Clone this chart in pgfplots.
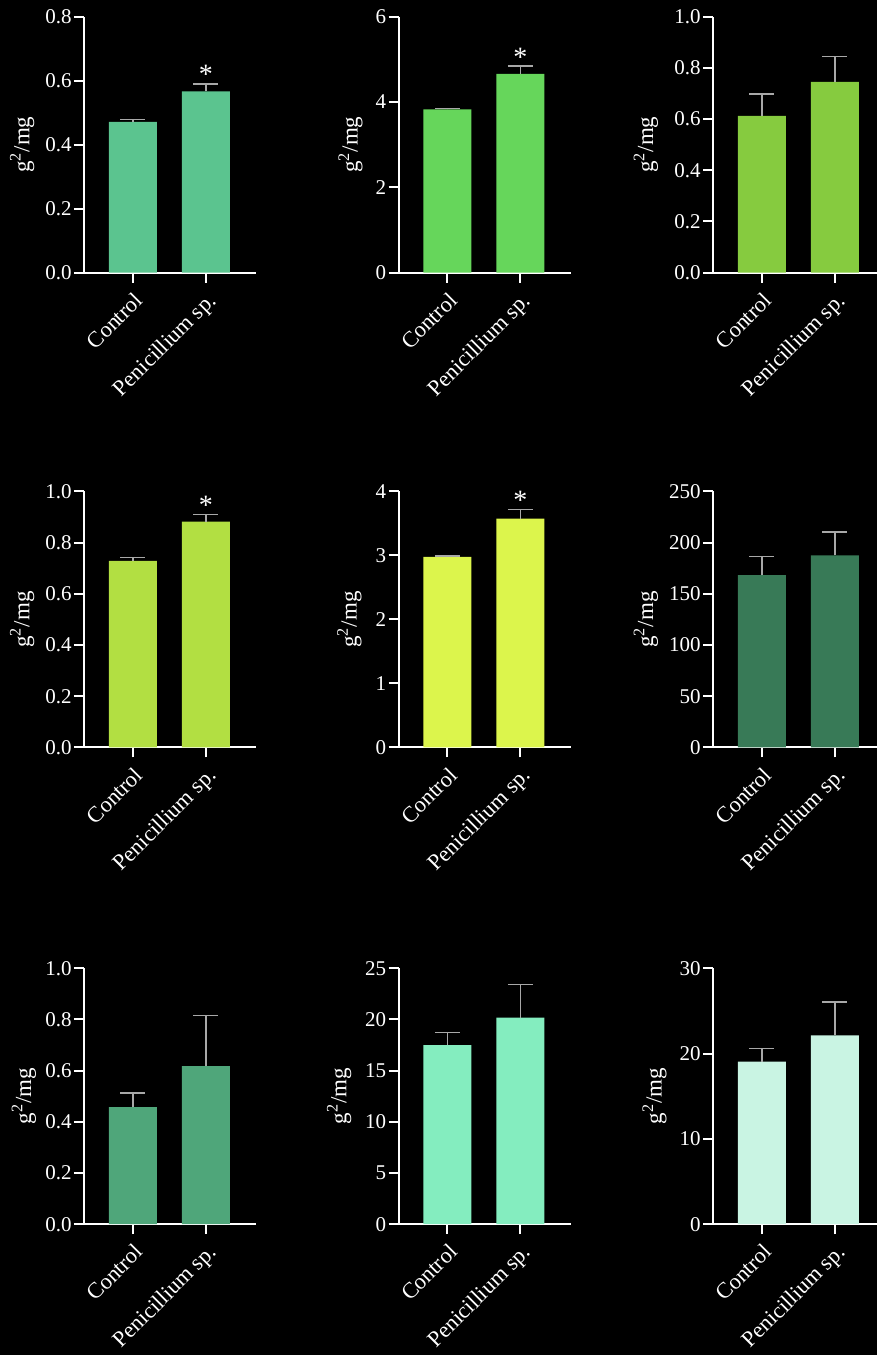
\documentclass[border=0pt]{standalone}
\usepackage{fontspec}
\setmainfont{Liberation Serif}
\usepackage{pgfplots}
\pgfplotsset{compat=1.18}

\definecolor{errgray}{HTML}{A8A8A8}
\definecolor{cA}{HTML}{5BC48F}
\definecolor{cB}{HTML}{66D65B}
\definecolor{cC}{HTML}{86CB3F}
\definecolor{cD}{HTML}{B2DF42}
\definecolor{cE}{HTML}{DCF54C}
\definecolor{cF}{HTML}{387A57}
\definecolor{cG}{HTML}{4FA67A}
\definecolor{cH}{HTML}{84EDBF}
\definecolor{cI}{HTML}{C9F4E3}

\tikzset{
  star/.style={font=\fontsize{14}{14}\selectfont, text=white, anchor=base, yshift=0pt, inner sep=0pt},
}

\pgfplotsset{
  panel/.style={
    scale only axis, width=86pt, height=128pt,
    axis lines=left, axis line style={-, white, line width=1pt},
    xmin=-0.671, xmax=1.685, ymin=0,
    xtick={0,1}, xticklabels={Control, Penicillium sp.},
    tick style={white, line width=1pt}, major tick length=5pt, tick align=outside,
    ticklabel style={font=\fontsize{10.5}{12}\selectfont, text=white},
    xticklabel style={font=\fontsize{11.2}{13}\selectfont, rotate=45, anchor=north east, inner sep=1pt},
    xticklabel shift=2.5pt,
    yticklabel style={inner sep=1pt},
    /pgf/number format/assume math mode=true,
    ylabel={g\textsuperscript{2}/mg},
    ylabel style={font=\fontsize{11.5}{13}\selectfont, text=white,
      at={(axis description cs:#1,0.5)}, anchor=center},
    clip=false,
  },
  dec/.style={yticklabel style={/pgf/number format/.cd, fixed, fixed zerofill, precision=1}},
  int/.style={yticklabel style={/pgf/number format/.cd, fixed, precision=0}},
  vals/.style={ybar, bar width=24pt, draw=none, fill=#1,
    error bars/.cd, y dir=plus, y explicit,
    error bar style={line width=0.75pt, color=errgray},
    error mark options={rotate=90, line width=0.75pt, mark size=6.25pt, color=errgray}},
}

\begin{document}
\begin{tikzpicture}
\useasboundingbox (0,0) rectangle (438.5pt,677.5pt);
\fill[black] (0,0) rectangle (438.5pt,677.5pt);
\begin{scope}
\clip (0,0) rectangle (438.5pt,677.5pt);

% ---- row 1 ----
\begin{axis}[panel=-0.36, dec, at={(42pt,541.15pt)}, anchor=south west,
  ymax=0.8, ytick={0,0.2,0.4,0.6,0.8}]
\addplot[vals=cA] coordinates {(0,0.471) +- (0,0.008) (1,0.567) +- (0,0.023)};
\node[star] at (axis cs:1,0.590) {*};
\end{axis}

\begin{axis}[panel=-0.279, int, at={(199.25pt,541.15pt)}, anchor=south west,
  ymax=6, ytick={0,2,4,6}]
\addplot[vals=cB] coordinates {(0,3.83) +- (0,0.02) (1,4.66) +- (0,0.18)};
\node[star] at (axis cs:1,4.84) {*};
\end{axis}

\begin{axis}[panel=-0.39, dec, at={(356.5pt,541.15pt)}, anchor=south west,
  ymax=1, ytick={0,0.2,0.4,0.6,0.8,1.0}]
\addplot[vals=cC] coordinates {(0,0.613) +- (0,0.085) (1,0.745) +- (0,0.099)};
\end{axis}

% ---- row 2 ----
\begin{axis}[panel=-0.36, dec, at={(42pt,303.75pt)}, anchor=south west,
  ymax=1, ytick={0,0.2,0.4,0.6,0.8,1.0}]
\addplot[vals=cD] coordinates {(0,0.729) +- (0,0.013) (1,0.882) +- (0,0.029)};
\node[star] at (axis cs:1,0.911) {*};
\end{axis}

\begin{axis}[panel=-0.285, int, at={(199.25pt,303.75pt)}, anchor=south west,
  ymax=4, ytick={0,1,2,3,4}]
\addplot[vals=cE] coordinates {(0,2.98) +- (0,0.015) (1,3.575) +- (0,0.14)};
\node[star] at (axis cs:1,3.715) {*};
\end{axis}

\begin{axis}[panel=-0.39, int, at={(356.5pt,303.75pt)}, anchor=south west,
  ymax=250, ytick={0,50,100,150,200,250}]
\addplot[vals=cF] coordinates {(0,168.3) +- (0,18.0) (1,187.6) +- (0,22.9)};
\end{axis}

% ---- row 3 ----
\begin{axis}[panel=-0.35, dec, at={(42pt,65.4pt)}, anchor=south west,
  ymax=1, ytick={0,0.2,0.4,0.6,0.8,1.0}]
\addplot[vals=cG] coordinates {(0,0.457) +- (0,0.056) (1,0.617) +- (0,0.198)};
\end{axis}

\begin{axis}[panel=-0.345, int, at={(199.25pt,65.4pt)}, anchor=south west,
  ymax=25, ytick={0,5,10,15,20,25}]
\addplot[vals=cH] coordinates {(0,17.49) +- (0,1.24) (1,20.17) +- (0,3.24)};
\end{axis}

\begin{axis}[panel=-0.34, int, at={(356.5pt,65.4pt)}, anchor=south west,
  ymax=30, ytick={0,10,20,30}]
\addplot[vals=cI] coordinates {(0,19.04) +- (0,1.53) (1,22.14) +- (0,3.88)};
\end{axis}
\end{scope}
\end{tikzpicture}
\end{document}
